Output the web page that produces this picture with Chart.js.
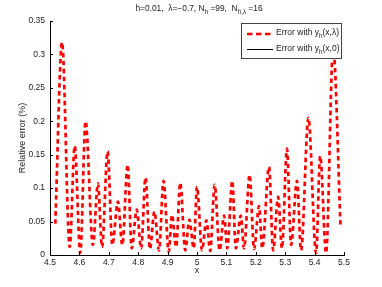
<!DOCTYPE html>
<html>
<head>
<meta charset="utf-8">
<script src="https://cdn.jsdelivr.net/npm/chart.js@4.4.1/dist/chart.umd.min.js"></script>
<style>
    html, body { margin: 0; padding: 0; background: #fff; }
    #chart_container { width: 382px; height: 287px; }
</style>
</head>
<body>
<div id="chart_container"><canvas id="myChart" width="382" height="287"></canvas></div>
<script>
// peaks and troughs of the error curve
const xValues = [4.518, 4.541, 4.567, 4.584, 4.603, 4.621, 4.646, 4.663, 4.677, 4.696,
    4.712, 4.731, 4.746, 4.764, 4.778, 4.795, 4.81, 4.825, 4.84, 4.855,
    4.871, 4.886, 4.904, 4.915, 4.929, 4.943, 4.96, 4.974, 4.989, 5.0,
    5.017, 5.032, 5.045, 5.06, 5.077, 5.092, 5.103, 5.12, 5.132, 5.149,
    5.16, 5.179, 5.194, 5.211, 5.222, 5.245, 5.259, 5.276, 5.289, 5.306,
    5.32, 5.34, 5.354, 5.379, 5.405, 5.419, 5.439, 5.463, 5.488];
const errLambda = [0.047, 0.318, 0.012, 0.163, 0.003, 0.2, 0.015, 0.107, 0.012, 0.155,
    0.015, 0.08, 0.015, 0.135, 0.01, 0.068, 0.01, 0.116, 0.009, 0.065,
    0.007, 0.111, 0.005, 0.06, 0.012, 0.108, 0.007, 0.053, 0.01, 0.102,
    0.007, 0.052, 0.006, 0.105, 0.007, 0.059, 0.01, 0.111, 0.01, 0.059,
    0.01, 0.12, 0.009, 0.073, 0.01, 0.132, 0.007, 0.087, 0.01, 0.159,
    0.015, 0.111, 0.007, 0.205, 0.003, 0.148, 0.003, 0.31, 0.045];
const errZero = []; // second curve does not show in the plotted range

const xTickLabels = ["4.5", "4.6", "4.7", "4.8", "4.9", "5", "5.1", "5.2", "5.3", "5.4", "5.5"];
const yTickLabels = ["0", "0.05", "0.1", "0.15", "0.2", "0.25", "0.3", "0.35"];

const FONT = "Liberation Sans, Arial, sans-serif";
const TEXT = "#222";

Chart.defaults.font.family = FONT;
Chart.defaults.font.size = 8.5;
Chart.defaults.color = TEXT;

// draws text pieces, some as subscripts
function drawRich(ctx, parts, x, y, size) {
    let cx = x;
    for (const p of parts) {
        const s = p.sub ? size * 0.75 : size;
        ctx.font = s + "px " + FONT;
        ctx.fillText(p.t, cx, p.sub ? y + 3 : y);
        cx += ctx.measureText(p.t).width;
    }
    return cx;
}

function richWidth(ctx, parts, size) {
    let w = 0;
    for (const p of parts) {
        ctx.font = (p.sub ? size * 0.75 : size) + "px " + FONT;
        w += ctx.measureText(p.t).width;
    }
    return w;
}

const titleParts = [
    { t: "h=0.01,  \u03bb=\u22120.7, N" }, { t: "h", sub: true }, { t: " =99,  N" },
    { t: "h,\u03bb", sub: true }, { t: " =16" }
];
const legendItems = [
    { parts: [{ t: "Error with y" }, { t: "h", sub: true }, { t: "(x,\u03bb)" }], color: "#ff0000", width: 2.5, dash: [5.5, 3.5] },
    { parts: [{ t: "Error with y" }, { t: "h", sub: true }, { t: "(x,0)" }], color: "#000", width: 1, dash: [] }
];

const decorPlugin = {
    id: "decor",
    afterDraw(chart) {
        const ctx = chart.ctx;
        const xs = chart.scales.x, ys = chart.scales.y;
        const area = chart.chartArea;
        ctx.save();
        // inward ticks
        ctx.strokeStyle = "#000";
        ctx.lineWidth = 1;
        ctx.beginPath();
        xs.ticks.forEach((t, i) => {
            const px = Math.round(xs.getPixelForTick(i)) + 0.5;
            ctx.moveTo(px, area.bottom);
            ctx.lineTo(px, area.bottom - 3);
        });
        ys.ticks.forEach((t, i) => {
            const py = Math.round(ys.getPixelForTick(i)) + 0.5;
            ctx.moveTo(area.left, py);
            ctx.lineTo(area.left + 3, py);
        });
        ctx.stroke();

        // title
        ctx.fillStyle = TEXT;
        ctx.textBaseline = "alphabetic";
        ctx.textAlign = "left";
        const tw = richWidth(ctx, titleParts, 8.4);
        drawRich(ctx, titleParts, 199 - tw / 2, 11, 8.4);

        // legend box
        const bx = 241.5, by = 23.5, bw = 100, bh = 35;
        ctx.fillStyle = "#fff";
        ctx.fillRect(bx, by, bw, bh);
        ctx.strokeStyle = "#444";
        ctx.strokeRect(bx, by, bw, bh);
        legendItems.forEach((item, i) => {
            const ly = 34 + i * 15.5;
            ctx.strokeStyle = item.color;
            ctx.lineWidth = item.width;
            ctx.setLineDash(item.dash);
            ctx.beginPath();
            ctx.moveTo(247, ly);
            ctx.lineTo(273, ly);
            ctx.stroke();
            ctx.setLineDash([]);
            ctx.fillStyle = TEXT;
            drawRich(ctx, item.parts, 276, ly + 1, 8.5);
        });
        ctx.restore();
    }
};

function buildPoints(xArr, yArr) {
    return xArr.map((x, i) => ({ x: x, y: yArr[i] }));
}

const ctx = document.getElementById("myChart").getContext("2d");
const chart = new Chart(ctx, {
    type: "line",
    data: {
        datasets: [
            {
                label: "Error with y_h(x,\u03bb)",
                data: buildPoints(xValues, errLambda),
                borderColor: "#ff0000",
                borderWidth: 2.7,
                borderDash: [4.5, 3.5],
                pointRadius: 0,
                fill: false,
                cubicInterpolationMode: "monotone"
            },
            {
                label: "Error with y_h(x,0)",
                data: buildPoints(xValues.slice(0, errZero.length), errZero),
                borderColor: "#000",
                borderWidth: 1,
                pointRadius: 0,
                fill: false
            }
        ]
    },
    options: {
        responsive: false,
        animation: false,
        devicePixelRatio: 1,
        layout: { padding: { top: 21, right: 38, left: 0, bottom: 0 } },
        plugins: {
            legend: { display: false },
            title: { display: false },
            tooltip: { enabled: false }
        },
        scales: {
            x: {
                type: "linear",
                min: 4.5,
                max: 5.5,
                afterFit: (axis) => { axis.height = 32; },
                grid: { drawOnChartArea: false, drawTicks: false },
                border: { display: true, color: "#000", width: 1 },
                ticks: {
                    stepSize: 0.1,
                    autoSkip: false,
                    maxRotation: 0,
                    padding: 3,
                    callback: (v, i) => xTickLabels[i]
                },
                title: { display: true, text: "x", font: { size: 9 }, padding: { top: 0, bottom: 11 } }
            },
            y: {
                min: 0,
                max: 0.35,
                afterFit: (axis) => { axis.width = 50; },
                grid: { drawOnChartArea: false, drawTicks: false },
                border: { display: true, color: "#000", width: 1 },
                ticks: {
                    stepSize: 0.05,
                    autoSkip: false,
                    padding: 5,
                    callback: (v, i) => yTickLabels[i]
                },
                title: { display: true, text: "Relative error (%)", font: { size: 9 }, padding: { top: 17, bottom: 0 } }
            }
        }
    },
    plugins: [decorPlugin]
});
</script>
</body>
</html>
